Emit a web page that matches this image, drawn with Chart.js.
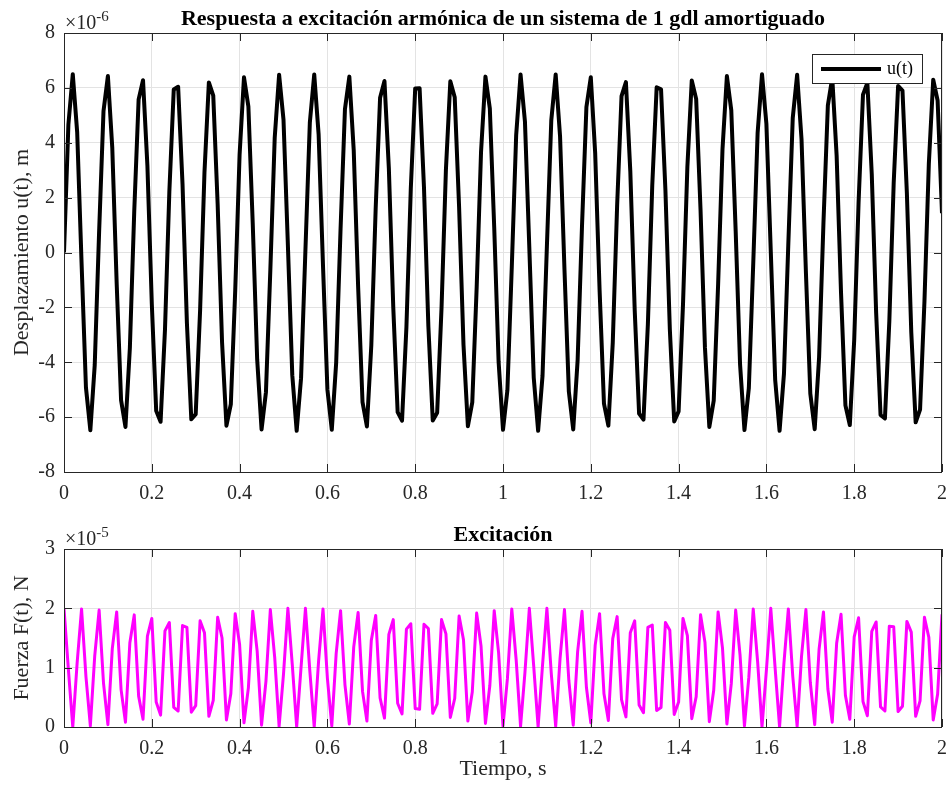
<!DOCTYPE html>
<html>
<head>
<meta charset="utf-8">
<title>Respuesta a excitación armónica</title>
<script src="https://cdn.jsdelivr.net/npm/chart.js@4.4.1/dist/chart.umd.min.js"></script>
<style>
  body { margin: 0; background: #fff; overflow: hidden; }
  canvas { position: absolute; left: 0; }
</style>
</head>
<body>
<canvas id="chartU" width="950" height="505" style="top:0"></canvas>
<canvas id="chartF" width="950" height="285" style="top:505px"></canvas>
<script>
// --- data (sample step 0.01 s) ---
const TIME = [
  0,0.01,0.02,0.03,0.04,0.05,0.06,0.07,0.08,0.09,0.1,0.11,0.12,0.13,0.14,0.15,0.16,0.17,0.18,0.19,
  0.2,0.21,0.22,0.23,0.24,0.25,0.26,0.27,0.28,0.29,0.3,0.31,0.32,0.33,0.34,0.35,0.36,0.37,0.38,0.39,
  0.4,0.41,0.42,0.43,0.44,0.45,0.46,0.47,0.48,0.49,0.5,0.51,0.52,0.53,0.54,0.55,0.56,0.57,0.58,0.59,
  0.6,0.61,0.62,0.63,0.64,0.65,0.66,0.67,0.68,0.69,0.7,0.71,0.72,0.73,0.74,0.75,0.76,0.77,0.78,0.79,
  0.8,0.81,0.82,0.83,0.84,0.85,0.86,0.87,0.88,0.89,0.9,0.91,0.92,0.93,0.94,0.95,0.96,0.97,0.98,0.99,
  1,1.01,1.02,1.03,1.04,1.05,1.06,1.07,1.08,1.09,1.1,1.11,1.12,1.13,1.14,1.15,1.16,1.17,1.18,1.19,
  1.2,1.21,1.22,1.23,1.24,1.25,1.26,1.27,1.28,1.29,1.3,1.31,1.32,1.33,1.34,1.35,1.36,1.37,1.38,1.39,
  1.4,1.41,1.42,1.43,1.44,1.45,1.46,1.47,1.48,1.49,1.5,1.51,1.52,1.53,1.54,1.55,1.56,1.57,1.58,1.59,
  1.6,1.61,1.62,1.63,1.64,1.65,1.66,1.67,1.68,1.69,1.7,1.71,1.72,1.73,1.74,1.75,1.76,1.77,1.78,1.79,
  1.8,1.81,1.82,1.83,1.84,1.85,1.86,1.87,1.88,1.89,1.9,1.91,1.92,1.93,1.94,1.95,1.96,1.97,1.98,1.99,
  2
];

// desplazamiento u(t), en unidades de 1e-6 m
const U_DISP = [
  0.00,4.66,6.50,4.39,-0.38,-4.92,-6.48,-4.10,0.76,5.16,6.43,3.80,-1.13,-5.38,-6.36,-3.49,1.50,5.58,6.28,3.16,
  -1.87,-5.77,-6.17,-2.82,2.23,5.94,6.04,2.48,-2.58,-6.08,-5.89,-2.12,2.93,6.20,5.72,1.76,-3.26,-6.31,-5.53,-1.39,
  3.58,6.39,5.32,1.02,-3.89,-6.45,-5.09,-0.64,4.19,6.48,4.84,0.26,-4.47,-6.50,-4.58,0.12,4.74,6.49,4.30,-0.49,
  -4.99,-6.46,-4.01,0.87,5.23,6.41,3.71,-1.25,-5.45,-6.34,-3.39,1.62,5.64,6.25,3.06,-1.98,-5.82,-6.13,-2.72,2.34,
  5.98,5.99,2.37,-2.69,-6.12,-5.84,-2.01,3.03,6.24,5.66,1.65,-3.36,-6.33,-5.46,-1.28,3.68,6.41,5.25,0.91,-3.99,
  -6.46,-5.02,-0.53,4.28,6.49,4.77,0.15,-4.56,-6.50,-4.50,0.23,4.82,6.49,4.22,-0.61,-5.07,-6.45,-3.92,0.99,5.30,
  6.39,3.61,-1.36,-5.51,-6.31,-3.29,1.73,5.70,6.21,2.96,-2.09,-5.87,-6.09,-2.62,2.45,6.02,5.95,2.26,-2.79,-6.16,
  -5.79,-1.90,3.13,6.27,5.60,1.54,-3.46,-6.36,-5.40,-1.17,3.77,6.43,5.18,0.79,-4.08,-6.47,-4.94,-0.41,4.36,6.50,
  4.69,0.03,-4.64,-6.50,-4.42,0.35,4.90,6.48,4.13,-0.72,-5.14,-6.44,-3.83,1.10,5.36,6.37,3.52,-1.47,-5.57,-6.29,
  -3.19,1.84,5.75,6.18,2.86,-2.20,-5.92,-6.05,-2.51,2.55,6.07,5.90,2.16,-2.90,-6.19,-5.73,-1.79,3.23,6.30,5.54,
  1.43
];

// fuerza F(t), en unidades de 1e-5 N
const F_EXC = [
  2.00,0.97,0.00,1.09,1.99,0.85,0.02,1.20,1.97,0.74,0.04,1.32,1.94,0.63,0.08,1.42,1.89,0.52,0.13,1.53,
  1.83,0.42,0.20,1.62,1.76,0.33,0.27,1.71,1.68,0.25,0.36,1.79,1.59,0.18,0.45,1.85,1.50,0.12,0.56,1.91,
  1.39,0.07,0.66,1.95,1.28,0.03,0.77,1.98,1.17,0.01,0.89,2.00,1.05,0.00,1.01,2.00,0.94,0.00,1.12,1.99,
  0.82,0.02,1.24,1.96,0.71,0.05,1.35,1.93,0.60,0.10,1.46,1.88,0.49,0.15,1.56,1.81,0.40,0.22,1.65,1.74,
  0.31,0.30,1.73,1.66,0.23,0.39,1.81,1.57,0.16,0.48,1.87,1.47,0.10,0.59,1.92,1.36,0.06,0.70,1.96,1.25,
  0.02,0.81,1.99,1.13,0.01,0.92,2.00,1.02,0.00,1.04,2.00,0.90,0.01,1.16,1.98,0.78,0.03,1.27,1.95,0.67,
  0.07,1.38,1.91,0.56,0.11,1.49,1.86,0.46,0.17,1.59,1.79,0.37,0.24,1.68,1.72,0.28,0.33,1.76,1.63,0.21,
  0.42,1.83,1.54,0.14,0.51,1.89,1.43,0.09,0.62,1.94,1.33,0.05,0.73,1.97,1.21,0.02,0.84,1.99,1.10,0.00,
  0.96,2.00,0.98,0.00,1.08,1.99,0.86,0.01,1.19,1.98,0.75,0.04,1.31,1.94,0.64,0.08,1.41,1.90,0.53,0.13,
  1.52,1.84,0.43,0.19,1.61,1.77,0.34,0.27,1.70,1.69,0.26,0.35,1.78,1.60,0.18,0.44,1.85,1.51,0.12,0.55,
  1.90
];

const X_TICKS = [0, 0.2, 0.4, 0.6, 0.8, 1, 1.2, 1.4, 1.6, 1.8, 2];
const U_TICKS = [-8, -6, -4, -2, 0, 2, 4, 6, 8];
const F_TICKS = [0, 1, 2, 3];

// --- estilo ---
const SERIF = '"Liberation Serif", "Times New Roman", serif';
const AXIS_COLOR = '#262626';
const GRID_COLOR = '#e3e3e3';
const TICK_LEN = 8;

// ejes tipo MATLAB: caja, ticks hacia dentro, titulo, exponente y leyenda
const matlabAxes = {
  id: 'matlabAxes',
  afterDatasetsDraw(chart) {
    const { ctx, chartArea: a, scales: { x, y } } = chart;
    ctx.save();
    ctx.strokeStyle = AXIS_COLOR;
    ctx.lineWidth = 1;
    ctx.beginPath();
    x.ticks.forEach(t => {
      const px = Math.round(x.getPixelForValue(t.value)) + 0.5;
      ctx.moveTo(px, a.bottom); ctx.lineTo(px, a.bottom - TICK_LEN);
      ctx.moveTo(px, a.top); ctx.lineTo(px, a.top + TICK_LEN);
    });
    y.ticks.forEach(t => {
      const py = Math.round(y.getPixelForValue(t.value)) + 0.5;
      ctx.moveTo(a.left, py); ctx.lineTo(a.left + TICK_LEN, py);
      ctx.moveTo(a.right, py); ctx.lineTo(a.right - TICK_LEN, py);
    });
    ctx.stroke();
    ctx.strokeRect(a.left + 0.5, a.top + 0.5, a.right - a.left - 1, a.bottom - a.top);
    ctx.restore();
  },
  afterDraw(chart, args, opts) {
    const { ctx, chartArea: a } = chart;
    ctx.save();
    // titulo
    ctx.fillStyle = '#000';
    ctx.font = 'bold 22px ' + SERIF;
    ctx.textAlign = 'center';
    ctx.textBaseline = 'alphabetic';
    ctx.fillText(opts.title, (a.left + a.right) / 2, a.top - 8);
    // exponente del eje y
    ctx.fillStyle = AXIS_COLOR;
    ctx.textAlign = 'left';
    ctx.font = '20px ' + SERIF;
    const base = '\u00d710';
    ctx.fillText(base, a.left + 1, a.top - 4);
    const w = ctx.measureText(base).width;
    ctx.font = '15px ' + SERIF;
    ctx.fillText(opts.exponent, a.left + 1 + w, a.top - 12);
    // leyenda
    if (opts.legend) {
      const L = opts.legend;
      ctx.fillStyle = '#fff';
      ctx.fillRect(L.x, L.y, L.w, L.h);
      ctx.strokeStyle = AXIS_COLOR;
      ctx.lineWidth = 1;
      ctx.strokeRect(L.x + 0.5, L.y + 0.5, L.w, L.h);
      ctx.strokeStyle = L.color;
      ctx.lineWidth = L.lineWidth;
      ctx.beginPath();
      ctx.moveTo(L.x + 9, L.y + L.h / 2 + 0.5);
      ctx.lineTo(L.x + 69, L.y + L.h / 2 + 0.5);
      ctx.stroke();
      ctx.fillStyle = '#000';
      ctx.font = '18px ' + SERIF;
      ctx.textBaseline = 'middle';
      ctx.fillText(L.text, L.x + 75, L.y + L.h / 2 + 1);
    }
    ctx.restore();
  }
};

function makeScales(yTicks, yMin, yMax, yTitle, xHeight, xTitle) {
  const tickFont = { family: SERIF, size: 20 };
  const x = {
    type: 'linear', min: 0, max: 2,
    afterBuildTicks: s => { s.ticks = X_TICKS.map(v => ({ value: v })); },
    afterFit: s => { s.height = xHeight; s.paddingLeft = 0; s.paddingRight = 0; },
    grid: { color: GRID_COLOR, drawTicks: false },
    border: { display: false },
    ticks: { color: AXIS_COLOR, font: tickFont, padding: 10, maxRotation: 0, autoSkip: false,
             callback: v => String(v) }
  };
  if (xTitle) {
    x.title = { display: true, text: xTitle, color: AXIS_COLOR,
                font: { family: SERIF, size: 22 }, padding: { top: 0, bottom: 8 } };
  }
  const y = {
    type: 'linear', min: yMin, max: yMax,
    afterBuildTicks: s => { s.ticks = yTicks.map(v => ({ value: v })); },
    afterFit: s => { s.width = 64; s.paddingTop = 0; s.paddingBottom = 0; },
    grid: { color: GRID_COLOR, drawTicks: false },
    border: { display: false },
    ticks: { color: AXIS_COLOR, font: tickFont, padding: 9, autoSkip: false,
             callback: v => String(v) },
    title: { display: true, text: yTitle, color: AXIS_COLOR,
             font: { family: SERIF, size: 22 }, padding: { top: 9, bottom: 0 } }
  };
  return { x, y };
}

function baseOptions(padTop, scales, axesOpts) {
  return {
    responsive: false,
    animation: false,
    devicePixelRatio: 1,
    events: [],
    layout: { padding: { top: padTop, right: 8, left: 0, bottom: 0 } },
    scales: scales,
    elements: { point: { radius: 0 }, line: { tension: 0 } },
    plugins: { legend: { display: false }, tooltip: { enabled: false }, matlabAxes: axesOpts }
  };
}

new Chart(document.getElementById('chartU'), {
  type: 'line',
  data: {
    labels: TIME,
    datasets: [{ label: 'u(t)', data: U_DISP, borderColor: '#000', borderWidth: 4,
                 borderJoinStyle: 'round', borderCapStyle: 'butt', fill: false }]
  },
  options: baseOptions(33,
    makeScales(U_TICKS, -8, 8, 'Desplazamiento u(t), m', 33, null),
    { title: 'Respuesta a excitación armónica de un sistema de 1 gdl amortiguado',
      exponent: '-6',
      legend: { x: 812, y: 54, w: 110, h: 29, text: 'u(t)', color: '#000', lineWidth: 4 } }),
  plugins: [matlabAxes]
});

new Chart(document.getElementById('chartF'), {
  type: 'line',
  data: {
    labels: TIME,
    datasets: [{ label: 'F(t)', data: F_EXC, borderColor: '#ff00ff', borderWidth: 3,
                 borderJoinStyle: 'round', borderCapStyle: 'butt', fill: false }]
  },
  options: baseOptions(44,
    makeScales(F_TICKS, 0, 3, 'Fuerza F(t), N', 63, 'Tiempo, s'),
    { title: 'Excitación', exponent: '-5', legend: null }),
  plugins: [matlabAxes]
});
</script>
</body>
</html>
